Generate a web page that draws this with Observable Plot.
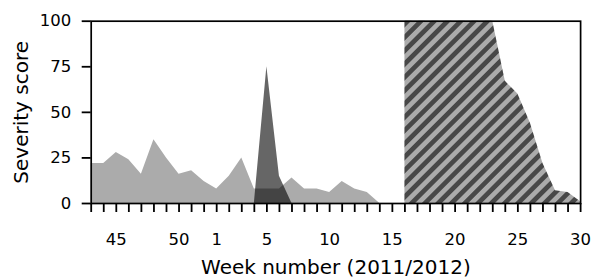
<!DOCTYPE html>
<html>
<head>
<meta charset="utf-8">
<script src="https://cdn.jsdelivr.net/npm/d3@7"></script>
<script src="https://cdn.jsdelivr.net/npm/@observablehq/plot@0.6"></script>
<style>
  html, body { margin: 0; padding: 0; background: #fff; }
  svg { display: block; }
</style>
</head>
<body>
<div id="chart"></div>
<script>
// Week numbers along the x axis (2011 weeks 43–52, then 2012 weeks 1–30)
const weeks = [43,44,45,46,47,48,49,50,51,52,1,2,3,4,5,6,7,8,9,10,11,12,13,14,15,16,17,18,19,20,21,22,23,24,25,26,27,28,29,30];
// Light grey series (weeks 43 .. 15)
const seriesLight = [22,22,28,24,16,35,25,16,18,12,8,15,25,8,8,8,14,8,8,6,12,8,6,0,0];
// Dark translucent series (weeks 4 .. 8)
const seriesDarkWeeks = [4,5,6,7,8];
const seriesDark = [0,75,15,0,0];
// Hatched series (weeks 16 .. 30)
const seriesHatchWeeks = [16,17,18,19,20,21,22,23,24,25,26,27,28,29,30];
const seriesHatch = [100,100,100,100,100,100,100,100,67,60,44,22,7,6,1];
// Axis ticks
const xTickLabels = [45,50,1,5,10,15,20,25,30];
const yTicks = [0,25,50,75,100];

const idxOfWeek = (w, from) => weeks.indexOf(w, from);
const lightData = seriesLight.map((v, i) => ({i, v}));
const darkData = seriesDarkWeeks.map((w, k) => ({i: idxOfWeek(w, 10), v: seriesDark[k]}));
const hatchData = seriesHatchWeeks.map((w, k) => ({i: idxOfWeek(w, 10), v: seriesHatch[k]}));

const font = "DejaVu Sans, sans-serif";

const plot = Plot.plot({
  width: 594,
  height: 280,
  marginLeft: 90.7,
  marginRight: 13.9,
  marginTop: 20.7,
  marginBottom: 77,
  style: {fontFamily: font, fontSize: "16.5px", color: "#000", background: "#fff"},
  x: {domain: [0, weeks.length - 1]},
  y: {domain: [0, 100]},
  marks: [
    Plot.areaY(lightData, {x: "i", y: "v", fill: "#ababab"}),
    Plot.areaY(darkData, {x: "i", y: "v", fill: "#000", fillOpacity: 0.6}),
    Plot.areaY(hatchData, {x: "i", y: "v", fill: "url(#hatch)"}),
    Plot.frame({stroke: "#000", strokeWidth: 1.7}),
    Plot.axisX({
      ticks: d3.range(weeks.length),
      tickSize: 9,
      tickPadding: 21,
      strokeWidth: 1.8,
      tickFormat: i => xTickLabels.includes(weeks[i]) ? String(weeks[i]) : "",
      label: null,
      fontSize: "16.5px"
    }),
    Plot.axisX({
      ticks: [],
      label: "Week number (2011/2012)",
      labelAnchor: "center",
      labelArrow: "none",
      labelOffset: 70,
      fontSize: "20px"
    }),
    Plot.axisY({
      ticks: yTicks,
      tickSize: 9,
      tickPadding: 11,
      strokeWidth: 1.8,
      label: null,
      fontSize: "16.5px"
    }),
    Plot.axisY({
      ticks: [],
      label: "Severity score",
      labelAnchor: "center",
      labelArrow: "none",
      labelOffset: 77,
      fontSize: "20px"
    })
  ]
});

// Diagonal hatch pattern used by the hatched area
const ns = "http://www.w3.org/2000/svg";
const defs = document.createElementNS(ns, "defs");
const pat = document.createElementNS(ns, "pattern");
pat.setAttribute("id", "hatch");
pat.setAttribute("patternUnits", "userSpaceOnUse");
pat.setAttribute("width", "9.4");
pat.setAttribute("height", "9.4");
pat.setAttribute("patternTransform", "rotate(45)");
const bg = document.createElementNS(ns, "rect");
bg.setAttribute("width", "9.4"); bg.setAttribute("height", "9.4"); bg.setAttribute("fill", "#ababab");
const st = document.createElementNS(ns, "rect");
st.setAttribute("width", "4.7"); st.setAttribute("height", "9.4"); st.setAttribute("fill", "#484848");
pat.appendChild(bg); pat.appendChild(st);
defs.appendChild(pat);
plot.insertBefore(defs, plot.firstChild);

document.getElementById("chart").appendChild(plot);
</script>
</body>
</html>
